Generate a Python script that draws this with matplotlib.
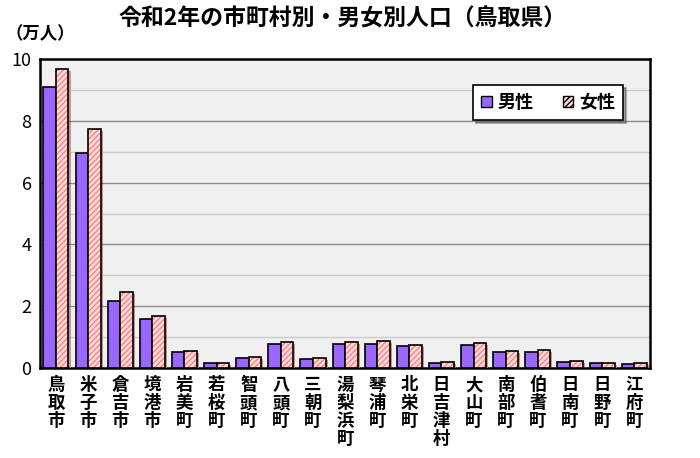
import numpy as np
import matplotlib
matplotlib.use("Agg")
import matplotlib.pyplot as plt
import matplotlib.patheffects as pe
from matplotlib.patches import Patch

plt.rcParams['font.family'] = ['Noto Sans CJK JP', 'DejaVu Sans']

towns = ["鳥取市", "米子市", "倉吉市", "境港市", "岩美町", "若桜町", "智頭町", "八頭町", "三朝町",
         "湯梨浜町", "琴浦町", "北栄町", "日吉津村", "大山町", "南部町", "伯耆町", "日南町", "日野町", "江府町"]
male = [9.10, 6.97, 2.18, 1.58, 0.53, 0.15, 0.31, 0.77, 0.30,
        0.77, 0.77, 0.70, 0.17, 0.74, 0.52, 0.53, 0.21, 0.16, 0.14]
female = [9.68, 7.73, 2.45, 1.69, 0.56, 0.16, 0.35, 0.85, 0.32,
          0.85, 0.88, 0.75, 0.19, 0.80, 0.56, 0.59, 0.23, 0.17, 0.15]

fig = plt.figure(figsize=(7, 4.58), dpi=100)
ax = fig.add_axes([0.057, 0.1965, 0.872, 0.6745])
ax.set_facecolor("#f0f0f0")

x = np.arange(len(towns))
w = 0.39
shadow = [pe.SimplePatchShadow(offset=(1.5, -1.5), alpha=0.45), pe.Normal()]

ax.bar(x - w / 2, male, w, color="#9966ff", edgecolor="black", linewidth=1.2,
       path_effects=shadow, zorder=3)
# pink fill with red hatching, then black outline on top
ax.bar(x + w / 2, female, w, color="#ffdcdc", edgecolor="#ff8080", hatch="//////",
       linewidth=0, path_effects=shadow, zorder=3)
ax.bar(x + w / 2, female, w, fill=False, edgecolor="black", linewidth=1.2, zorder=4)

ax.set_xlim(-0.5, len(towns) - 0.5)
ax.set_ylim(0, 10)
ax.set_yticks([0, 2, 4, 6, 8, 10])
ax.set_yticks([1, 3, 5, 7, 9], minor=True)
ax.grid(axis="y", which="major", color="#8c8c8c", linewidth=1.0, zorder=1)
ax.grid(axis="y", which="minor", color="#cccccc", linewidth=1.0, zorder=1)
ax.set_axisbelow(True)

ax.set_xticks(x)
ax.set_xticklabels(["\n".join(t) for t in towns], fontsize=12.5, fontweight="bold",
                   linespacing=1.0, va="top")
ax.tick_params(axis="x", length=0, pad=6)
ax.tick_params(axis="y", which="both", length=0, labelsize=13, pad=6)

for s in ax.spines.values():
    s.set_linewidth(1.8)
    s.set_color("black")

handles = [Patch(facecolor="#9966ff", edgecolor="black", label="男性"),
           Patch(facecolor="#ffdcdc", edgecolor="black", hatch="//////", label="女性")]
leg = ax.legend(handles=handles, ncol=2, loc="center",
                bbox_to_anchor=(0.693, 0.803, 0.279, 0.113),
                prop={"weight": "bold", "size": 13}, handlelength=0.6, handleheight=0.6,
                handletextpad=0.3, columnspacing=1.6, frameon=True, fancybox=False,
                shadow=True, borderpad=0.45, borderaxespad=0)
leg.get_frame().set_edgecolor("black")
leg.get_frame().set_linewidth(1.2)
leg.set_zorder(10)

fig.text(0.49, 0.958, "令和2年の市町村別・男女別人口（鳥取県）", ha="center", va="center",
         fontsize=16.5, fontweight="bold")
fig.text(0.008, 0.925, "（万人）", ha="left", va="center", fontsize=12.5, fontweight="bold")

fig.savefig("out.png", dpi=100)
